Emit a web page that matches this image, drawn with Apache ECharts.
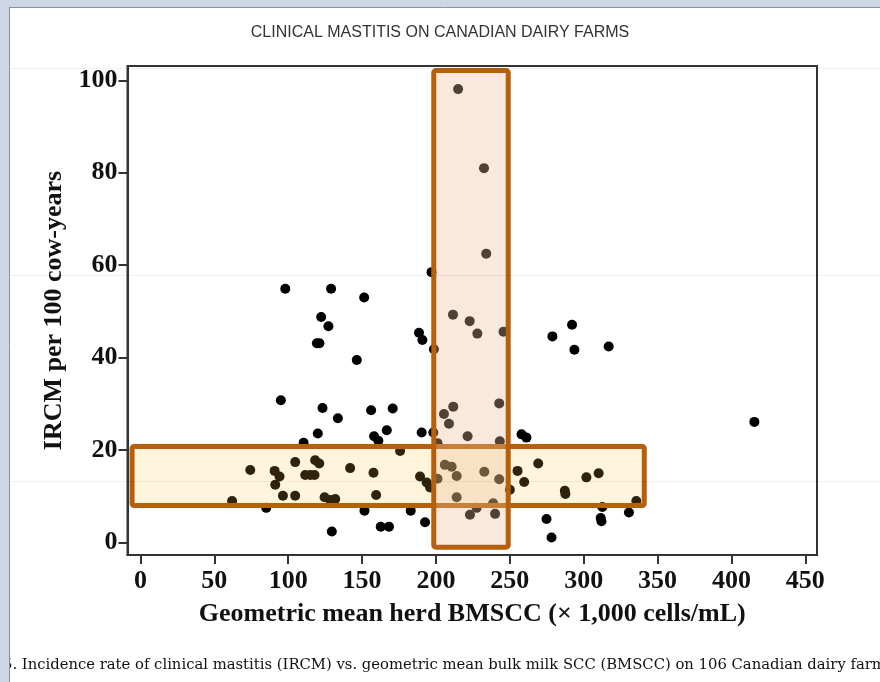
<!DOCTYPE html>
<html><head><meta charset="utf-8">
<script src="https://cdn.jsdelivr.net/npm/echarts@6/dist/echarts.min.js"></script>
<style>html,body{margin:0;padding:0;background:#fff}#c{width:880px;height:682px}</style>
</head><body><div id="c"></div>
<script>
// Data
const bmscc = [215,232.5,234,211.5,222.8,228,245.7,198.6,211.7,205.4,208.8,242.8,221.4,243.2,201,206,210.6,214,232.7,242.8,201,214,238.7,227.5,223,240,250,
 190.3,198.2,189.2,193.7,196,192.6,
 257.9,261.2,269.2,255.2,259.7,287.2,287.6,301.8,310.1,312.6,311.5,312,330.6,335.6,274.8,278.2,
 278.8,292.1,293.7,316.9,415.5,
 98,129,151.4,122.3,127.2,119.4,121.1,146.4,188.5,190.8,197,95,123.2,133.6,156.1,170.7,
 120,110.4,158.1,161,166.7,175.7,74.3,90.8,94.1,91.2,104.7,118.2,121,111.5,114.9,117.8,141.9,157.7,96.4,104.7,124.6,128.4,131.8,159.5,62,85.1,151.6,182.9,129.5,162.6,168.2];
const ircm = [98.1,81,62.5,49.3,47.9,45.2,45.6,41.8,29.4,27.8,25.7,30.1,23,21.9,21.5,16.8,16.4,14.4,15.3,13.7,13.8,9.8,8.5,7.5,6,6.2,11.4,
 23.8,23.8,14.3,13,11.9,4.4,
 23.4,22.7,17.1,15.5,13.1,11.2,10.5,14.1,15,7.7,5.3,4.6,6.5,9,5.1,1.1,
 44.6,47.1,41.7,42.4,26.1,
 54.9,54.9,53,48.8,46.8,43.1,43.1,39.5,45.4,43.8,58.5,30.8,29.1,26.9,28.6,29,
 23.6,21.6,23,22,24.3,19.8,15.7,15.5,14.3,12.5,17.4,17.8,17.1,14.6,14.6,14.6,16.1,15.1,10.1,10.1,9.8,9.2,9.4,10.3,9,7.5,6.9,6.9,2.4,3.4,3.4];
const xTicks = [0,50,100,150,200,250,300,350,400,450];
const yTicks = [0,20,40,60,80,100];
// highlight boxes [x1, x2, y1, y2] in data units
const boxIRCM = [-5.7, 341, 8.0, 20.8];
const boxBMSCC = [198.5, 248.9, -1, 102.1];

const points = bmscc.map((x,i)=>[x, ircm[i]]);
const boxFills = ['rgba(250,200,60,0.18)', 'rgba(238,188,150,0.34)'];
const chart = echarts.init(document.getElementById('c'));
const serif = 'Liberation Serif, DejaVu Serif, serif';
const orange = '#b5600c';
chart.setOption({
  backgroundColor: '#ffffff',
  animation: false,
  title: {
    text: 'CLINICAL MASTITIS ON CANADIAN DAIRY FARMS',
    left: 435, top: 20, textAlign: 'center',
    textStyle: {fontFamily: 'Liberation Sans, Arial, sans-serif', fontSize: 16, fontWeight: 'normal', color: '#333'}
  },
  grid: {left: 127.5, right: 63, top: 66, bottom: 127, show: true, borderColor: '#333', borderWidth: 2, backgroundColor: 'transparent'},
  xAxis: {
    type: 'value', min: -8.8, max: 457.9,
    splitLine: {show: false},
    axisLine: {show: true, onZero: false, lineStyle: {color: '#333', width: 2}},
    axisTick: {show: true, inside: false, length: 9, customValues: xTicks, lineStyle: {color: '#333', width: 2}},
    axisLabel: {customValues: xTicks, margin: 13, fontFamily: serif, fontWeight: 'bold', fontSize: 26, color: '#111'},
    name: 'Geometric mean herd BMSCC (× 1,000 cells/mL)',
    nameLocation: 'middle', nameGap: 46,
    nameTextStyle: {fontFamily: serif, fontWeight: 'bold', fontSize: 26, color: '#111'}
  },
  yAxis: {
    type: 'value', min: -2.7, max: 103.1,
    splitLine: {show: false},
    axisLine: {show: true, onZero: false, lineStyle: {color: '#333', width: 2}},
    axisTick: {show: true, inside: false, length: 9, customValues: yTicks, lineStyle: {color: '#333', width: 2}},
    axisLabel: {customValues: yTicks, margin: 10, fontFamily: serif, fontWeight: 'bold', fontSize: 26, color: '#111'},
    name: 'IRCM per 100 cow-years',
    nameLocation: 'middle', nameGap: 56, nameRotate: 90,
    nameTextStyle: {fontFamily: serif, fontWeight: 'bold', fontSize: 26, color: '#111'}
  },
  series: [
    {type: 'scatter', data: points, symbolSize: 10, z: 2, itemStyle: {color: '#000', opacity: 1}},
    {type: 'custom', z: 10, silent: true, clip: false,
     data: [boxIRCM, boxBMSCC],
     encode: {x: [0, 1], y: [2, 3]},
     renderItem: function (params, api) {
       const p1 = api.coord([api.value(0), api.value(3)]);
       const p2 = api.coord([api.value(1), api.value(2)]);
       return {type: 'rect', shape: {x: p1[0], y: p1[1], width: p2[0] - p1[0], height: p2[1] - p1[1], r: 2},
               style: {fill: boxFills[params.dataIndex], stroke: orange, lineWidth: 5}};
     }}
  ],
  graphic: [
    {type: 'rect', z: 100, shape: {x: 0, y: 0, width: 880, height: 7}, style: {fill: '#cdd6e4'}},
    {type: 'rect', z: 100, shape: {x: 0, y: 0, width: 9, height: 682}, style: {fill: '#cdd6e4'}},
    {type: 'line', z: 101, shape: {x1: 9, y1: 7.5, x2: 880, y2: 7.5}, style: {stroke: '#8c929c', lineWidth: 1}},
    {type: 'line', z: 101, shape: {x1: 9.5, y1: 7, x2: 9.5, y2: 682}, style: {stroke: '#8c929c', lineWidth: 1}},
    {type: 'line', z: 90, shape: {x1: 10, y1: 68.5, x2: 880, y2: 68.5}, style: {stroke: 'rgba(0,0,0,0.06)', lineWidth: 1}},
    {type: 'line', z: 90, shape: {x1: 10, y1: 275.5, x2: 880, y2: 275.5}, style: {stroke: 'rgba(0,0,0,0.06)', lineWidth: 1}},
    {type: 'line', z: 90, shape: {x1: 10, y1: 481.5, x2: 880, y2: 481.5}, style: {stroke: 'rgba(0,0,0,0.06)', lineWidth: 1}},
    {type: 'text', z: 50, left: 3, top: 658, style: {text: '5. Incidence rate of clinical mastitis (IRCM) vs. geometric mean bulk milk SCC (BMSCC) on 106 Canadian dairy farms.', font: '14.8px DejaVu Serif, serif', fill: '#111'}}
  ]
});
</script></body></html>
